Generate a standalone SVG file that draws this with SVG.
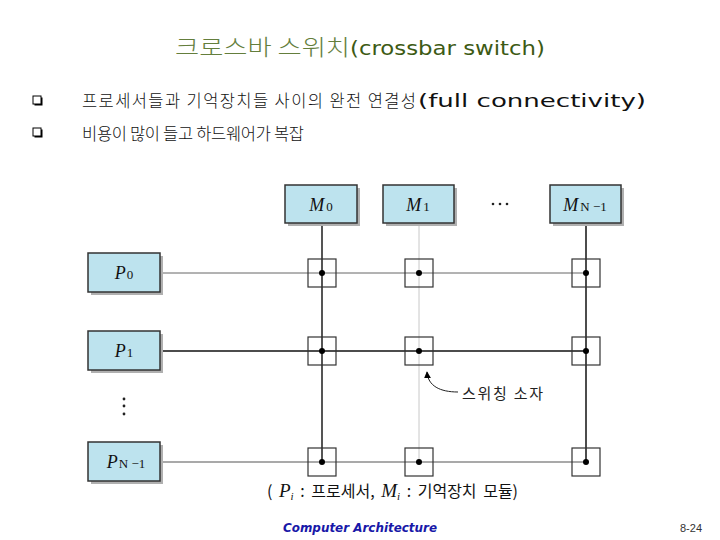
<svg xmlns="http://www.w3.org/2000/svg" width="720" height="540" viewBox="0 0 720 540">
<defs>
<style>
.kr{font-family:"Noto Sans CJK KR","Noto Sans",sans-serif;}
.box{fill:#bde3ee;stroke:#333;stroke-width:1.5;}
.shadow{fill:#b0b0b0;}
.sym{font-family:"Liberation Serif","DejaVu Serif",serif;font-style:italic;font-size:18px;fill:#111;}
.sub{font-family:"Liberation Serif","DejaVu Serif",serif;font-style:normal;font-size:13px;}
.sw{fill:none;stroke:#333;stroke-width:1.2;}
.dot{fill:#000;}
</style>
<marker id="ah" viewBox="0 0 10 10" refX="9" refY="5" markerWidth="7" markerHeight="7" orient="auto" markerUnits="userSpaceOnUse">
<path d="M0,0 L10,5 L0,10 z" fill="#000"/>
</marker>
</defs>
<rect width="720" height="540" fill="#fff"/>

<g id="title">
<text class="kr" x="175" y="55" font-size="22" font-weight="300" fill="#647e3c" textLength="175" lengthAdjust="spacingAndGlyphs">크로스바 스위치</text>
<text x="350" y="55" font-family="'DejaVu Sans',sans-serif" font-size="20" fill="#3d5a14" textLength="195" lengthAdjust="spacingAndGlyphs">(crossbar switch)</text>
</g>

<g id="bullet1">
<rect x="34.5" y="97.5" width="8" height="8" fill="#000"/>
<rect x="33" y="96" width="8" height="8" fill="#fff" stroke="#000" stroke-width="1"/>
<text class="kr" x="82" y="107" font-size="16.5" font-weight="300" fill="#111" textLength="334" lengthAdjust="spacing">프로세서들과 기억장치들 사이의 완전 연결성</text>
<text x="418" y="107" font-family="'DejaVu Sans',sans-serif" font-size="18" fill="#111" textLength="228" lengthAdjust="spacingAndGlyphs">(full connectivity)</text>
</g>
<g id="bullet2">
<rect x="34.5" y="129.5" width="8" height="8" fill="#000"/>
<rect x="33" y="128" width="8" height="8" fill="#fff" stroke="#000" stroke-width="1"/>
<text class="kr" x="82" y="140" font-size="16.5" font-weight="300" fill="#111" textLength="222" lengthAdjust="spacing">비용이 많이 들고 하드웨어가 복잡</text>
</g>

<g id="connectors">
<line x1="322" y1="223" x2="322" y2="462" stroke="#555" stroke-width="2"/>
<line x1="419" y1="223" x2="419" y2="462" stroke="#c8c8c8" stroke-width="1"/>
<line x1="586" y1="223" x2="586" y2="462" stroke="#111" stroke-width="1.5"/>
<line x1="160" y1="273" x2="586" y2="273" stroke="#666" stroke-width="1"/>
<line x1="160" y1="351" x2="586" y2="351" stroke="#111" stroke-width="1.5"/>
<line x1="160" y1="462" x2="586" y2="462" stroke="#555" stroke-width="1.2"/>
<path d="M458,392 C440,392 428,386 427,372" fill="none" stroke="#222" stroke-width="1" marker-end="url(#ah)"/>
</g>

<g id="M0">
<rect class="shadow" x="288" y="188" width="72" height="38"/>
<rect class="box" x="285" y="185" width="72" height="38"/>
<text class="sym" x="321" y="211" text-anchor="middle">M<tspan class="sub" dx="2">0</tspan></text>
</g>
<g id="M1">
<rect class="shadow" x="386" y="188" width="71" height="38"/>
<rect class="box" x="383" y="185" width="71" height="38"/>
<text class="sym" x="418" y="211" text-anchor="middle">M<tspan class="sub" dx="2">1</tspan></text>
</g>
<g id="MN-1">
<rect class="shadow" x="553" y="188" width="71" height="38"/>
<rect class="box" x="550" y="185" width="71" height="38"/>
<text class="sym" x="585" y="211" text-anchor="middle">M<tspan class="sub" dx="2" font-style="italic" font-size="11">N</tspan><tspan class="sub"> −1</tspan></text>
</g>
<g id="mdots">
<circle cx="493" cy="204" r="1.3" fill="#222"/>
<circle cx="500" cy="204" r="1.3" fill="#222"/>
<circle cx="507" cy="204" r="1.3" fill="#222"/>
</g>

<g id="P0">
<rect class="shadow" x="91" y="256" width="72" height="39"/>
<rect class="box" x="88" y="253" width="72" height="39"/>
<text class="sym" x="124" y="279" text-anchor="middle">P<tspan class="sub" dx="1">0</tspan></text>
</g>
<g id="P1">
<rect class="shadow" x="91" y="334" width="72" height="39"/>
<rect class="box" x="88" y="331" width="72" height="39"/>
<text class="sym" x="124" y="357" text-anchor="middle">P<tspan class="sub" dx="1">1</tspan></text>
</g>
<g id="PN-1">
<rect class="shadow" x="91" y="445" width="72" height="39"/>
<rect class="box" x="88" y="442" width="72" height="39"/>
<text class="sym" x="126" y="468" text-anchor="middle">P<tspan class="sub" dx="1" font-style="italic" font-size="11">N</tspan><tspan class="sub"> −1</tspan></text>
</g>
<g id="pdots">
<circle cx="124" cy="399" r="1.4" fill="#222"/>
<circle cx="124" cy="406" r="1.4" fill="#222"/>
<circle cx="124" cy="414" r="1.4" fill="#222"/>
</g>

<g id="sw00"><rect class="sw" x="308" y="259" width="28" height="28"/><circle class="dot" cx="322" cy="273" r="3"/></g>
<g id="sw01"><rect class="sw" x="405" y="259" width="28" height="28"/><circle class="dot" cx="419" cy="273" r="3"/></g>
<g id="sw02"><rect class="sw" x="572" y="259" width="28" height="28"/><circle class="dot" cx="586" cy="273" r="3"/></g>
<g id="sw10"><rect class="sw" x="308" y="337" width="28" height="28"/><circle class="dot" cx="322" cy="351" r="3"/></g>
<g id="sw11"><rect class="sw" x="405" y="337" width="28" height="28"/><circle class="dot" cx="419" cy="351" r="3"/></g>
<g id="sw12"><rect class="sw" x="572" y="337" width="28" height="28"/><circle class="dot" cx="586" cy="351" r="3"/></g>
<g id="sw20"><rect class="sw" x="308" y="448" width="28" height="28"/><circle class="dot" cx="322" cy="462" r="3"/></g>
<g id="sw21"><rect class="sw" x="405" y="448" width="28" height="28"/><circle class="dot" cx="419" cy="462" r="3"/></g>
<g id="sw22"><rect class="sw" x="572" y="448" width="28" height="28"/><circle class="dot" cx="586" cy="462" r="3"/></g>

<text class="kr" x="462" y="399" font-size="15" fill="#222" textLength="81" lengthAdjust="spacing">스위칭 소자</text>

<text class="kr" x="267" y="497" font-size="16" fill="#111" word-spacing="3">( <tspan font-family="'Liberation Serif',serif" font-style="italic" font-size="19">P</tspan><tspan font-family="'Liberation Serif',serif" font-style="italic" font-size="11" dy="3">i</tspan><tspan dy="-3"> : 프로세서, </tspan><tspan font-family="'Liberation Serif',serif" font-style="italic" font-size="19">M</tspan><tspan font-family="'Liberation Serif',serif" font-style="italic" font-size="11" dy="3">i</tspan><tspan dy="-3"> : 기억장치 모듈)</tspan></text>

<text x="283" y="532" font-family="'DejaVu Sans',sans-serif" font-style="italic" font-weight="bold" font-size="12" fill="#1818a8" textLength="154" lengthAdjust="spacingAndGlyphs">Computer Architecture</text>
<text x="680" y="532" font-family="'Liberation Sans',sans-serif" font-size="11" fill="#333">8-24</text>
</svg>
